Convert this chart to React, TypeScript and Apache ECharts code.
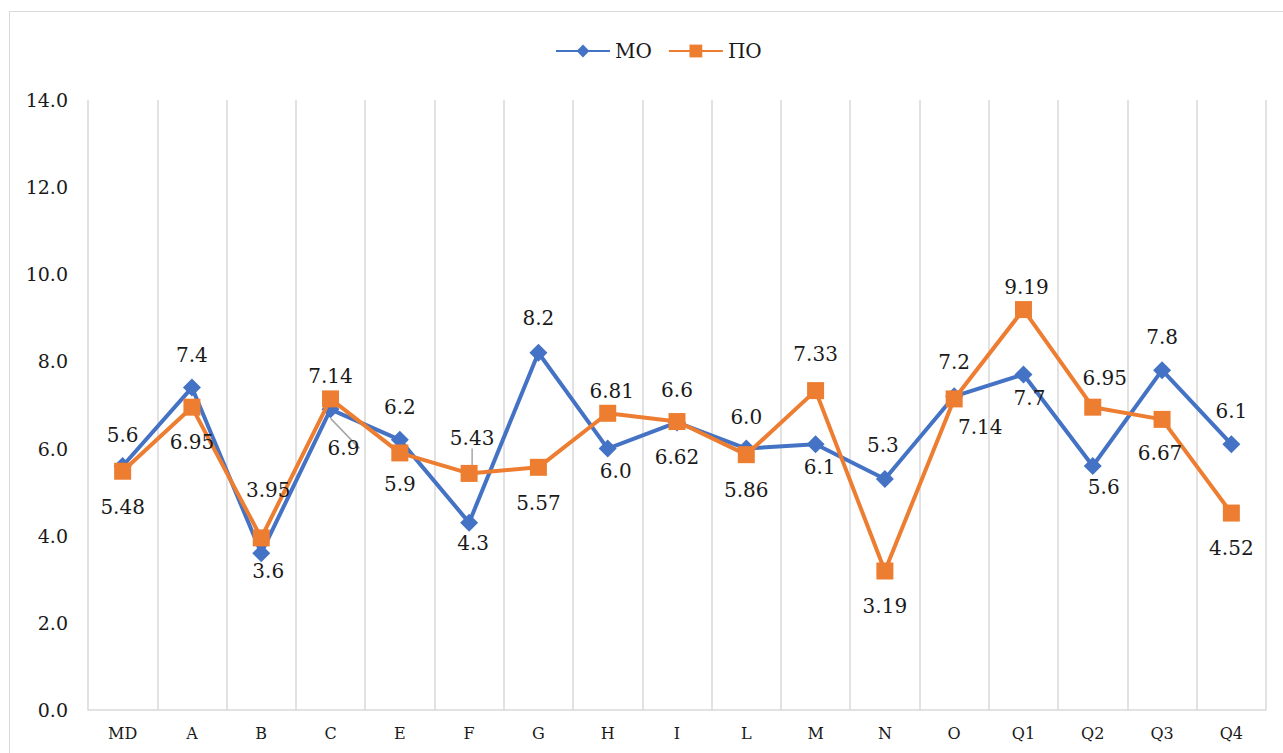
import React, { useEffect, useRef } from "react";
import * as echarts from "echarts";

const categories = ["MD", "A", "B", "C", "E", "F", "G", "H", "I", "L", "M", "N", "O", "Q1", "Q2", "Q3", "Q4"];
const moValues = [5.6, 7.4, 3.6, 6.9, 6.2, 4.3, 8.2, 6.0, 6.6, 6.0, 6.1, 5.3, 7.2, 7.7, 5.6, 7.8, 6.1];
const poValues = [5.48, 6.95, 3.95, 7.14, 5.9, 5.43, 5.57, 6.81, 6.62, 5.86, 7.33, 3.19, 7.14, 9.19, 6.95, 6.67, 4.52];
const yTicks = [0, 2, 4, 6, 8, 10, 12, 14];
const seriesNames = ["МО", "ПО"];

// label placement (offset of label centre from the marker centre), kept apart from the data
const moLabelDx = [0, 0, 7, 13, 0, 4, 0, 8, 0, 0, 4, -2, 0, 6, 11, 0, 0];
const moLabelDy = [-31, -33, 18, 39, -33, 20, -35, 22, -32, -32, 23, -34, -34, 23, 21, -33, -33];
const poLabelDx = [0, 0, 7, 0, 0, 3, 0, 4, 0, 0, 0, 0, 26, 3, 12, -2, 0];
const poLabelDy = [36, 35, -48, -23, 31, -35, 36, -22, 35, 35, -37, 35, 28, -23, -29, 34, 35];
// points whose label has a leader line
const moLeaders = [3];
const poLeaders = [5];

const FONT = "DejaVu Serif";

export default function App() {
  const ref = useRef<HTMLDivElement>(null);
  useEffect(() => {
    if (!ref.current) return;
    const chart = echarts.init(ref.current, null, { renderer: "svg" });
    const mkData = (
      vals: number[],
      dx: number[],
      dy: number[],
      leaders: number[],
      fmt: (v: number) => string
    ) =>
      vals.map((v, i) => ({
        value: v,
        label: {
          show: true,
          position: "inside",
          offset: [dx[i], dy[i]],
          formatter: fmt(v),
          fontFamily: FONT,
          fontSize: 20,
          color: "#1a1a1a",
        },
        labelLine: leaders.includes(i)
          ? { show: true, lineStyle: { color: "#a6a6a6", width: 1.5 } }
          : { show: false },
      }));
    chart.setOption({
      animation: false,
      backgroundColor: "#ffffff",
      textStyle: { fontFamily: FONT },
      graphic: [
        {
          type: "rect",
          z: -10,
          shape: { x: 9.5, y: 11.5, width: 1300, height: 800 },
          style: { fill: "none", stroke: "#d9d9d9", lineWidth: 1 },
        },
      ],
      legend: {
        top: 36,
        left: 550,
        itemWidth: 54,
        itemHeight: 16,
        itemGap: 16,
        textStyle: { fontFamily: FONT, fontSize: 20, color: "#1a1a1a" },
        data: seriesNames,
      },
      grid: { left: 88, right: 17, top: 100, bottom: 43, containLabel: false },
      xAxis: {
        type: "category",
        data: categories,
        boundaryGap: true,
        axisLine: { show: true, lineStyle: { color: "#d9d9d9", width: 1.5 } },
        axisTick: { show: false },
        splitLine: { show: true, lineStyle: { color: "#d9d9d9", width: 1.5 } },
        axisLabel: { fontFamily: FONT, fontSize: 16, color: "#1a1a1a", margin: 15, interval: 0 },
      },
      yAxis: {
        type: "value",
        min: yTicks[0],
        max: yTicks[yTicks.length - 1],
        interval: 2,
        axisLine: { show: false },
        axisTick: { show: false },
        splitLine: { show: false },
        axisLabel: {
          fontFamily: FONT,
          fontSize: 19,
          color: "#1a1a1a",
          margin: 20,
          formatter: (v: number) => v.toFixed(1),
        },
      },
      series: [
        {
          name: seriesNames[0],
          type: "line",
          data: mkData(moValues, moLabelDx, moLabelDy, moLeaders, (v) => v.toFixed(1)),
          symbol: "diamond",
          symbolSize: 18,
          lineStyle: { color: "#4472C4", width: 4 },
          itemStyle: { color: "#4472C4" },
          z: 2,
        },
        {
          name: seriesNames[1],
          type: "line",
          data: mkData(poValues, poLabelDx, poLabelDy, poLeaders, (v) => String(v)),
          symbol: "rect",
          symbolSize: 17,
          lineStyle: { color: "#ED7D31", width: 4 },
          itemStyle: { color: "#ED7D31" },
          z: 3,
        },
      ],
    });
    return () => chart.dispose();
  }, []);
  return (
    <div
      ref={ref}
      style={{ position: "absolute", left: 0, top: 0, width: 1283, height: 753, background: "#fff" }}
    />
  );
}
